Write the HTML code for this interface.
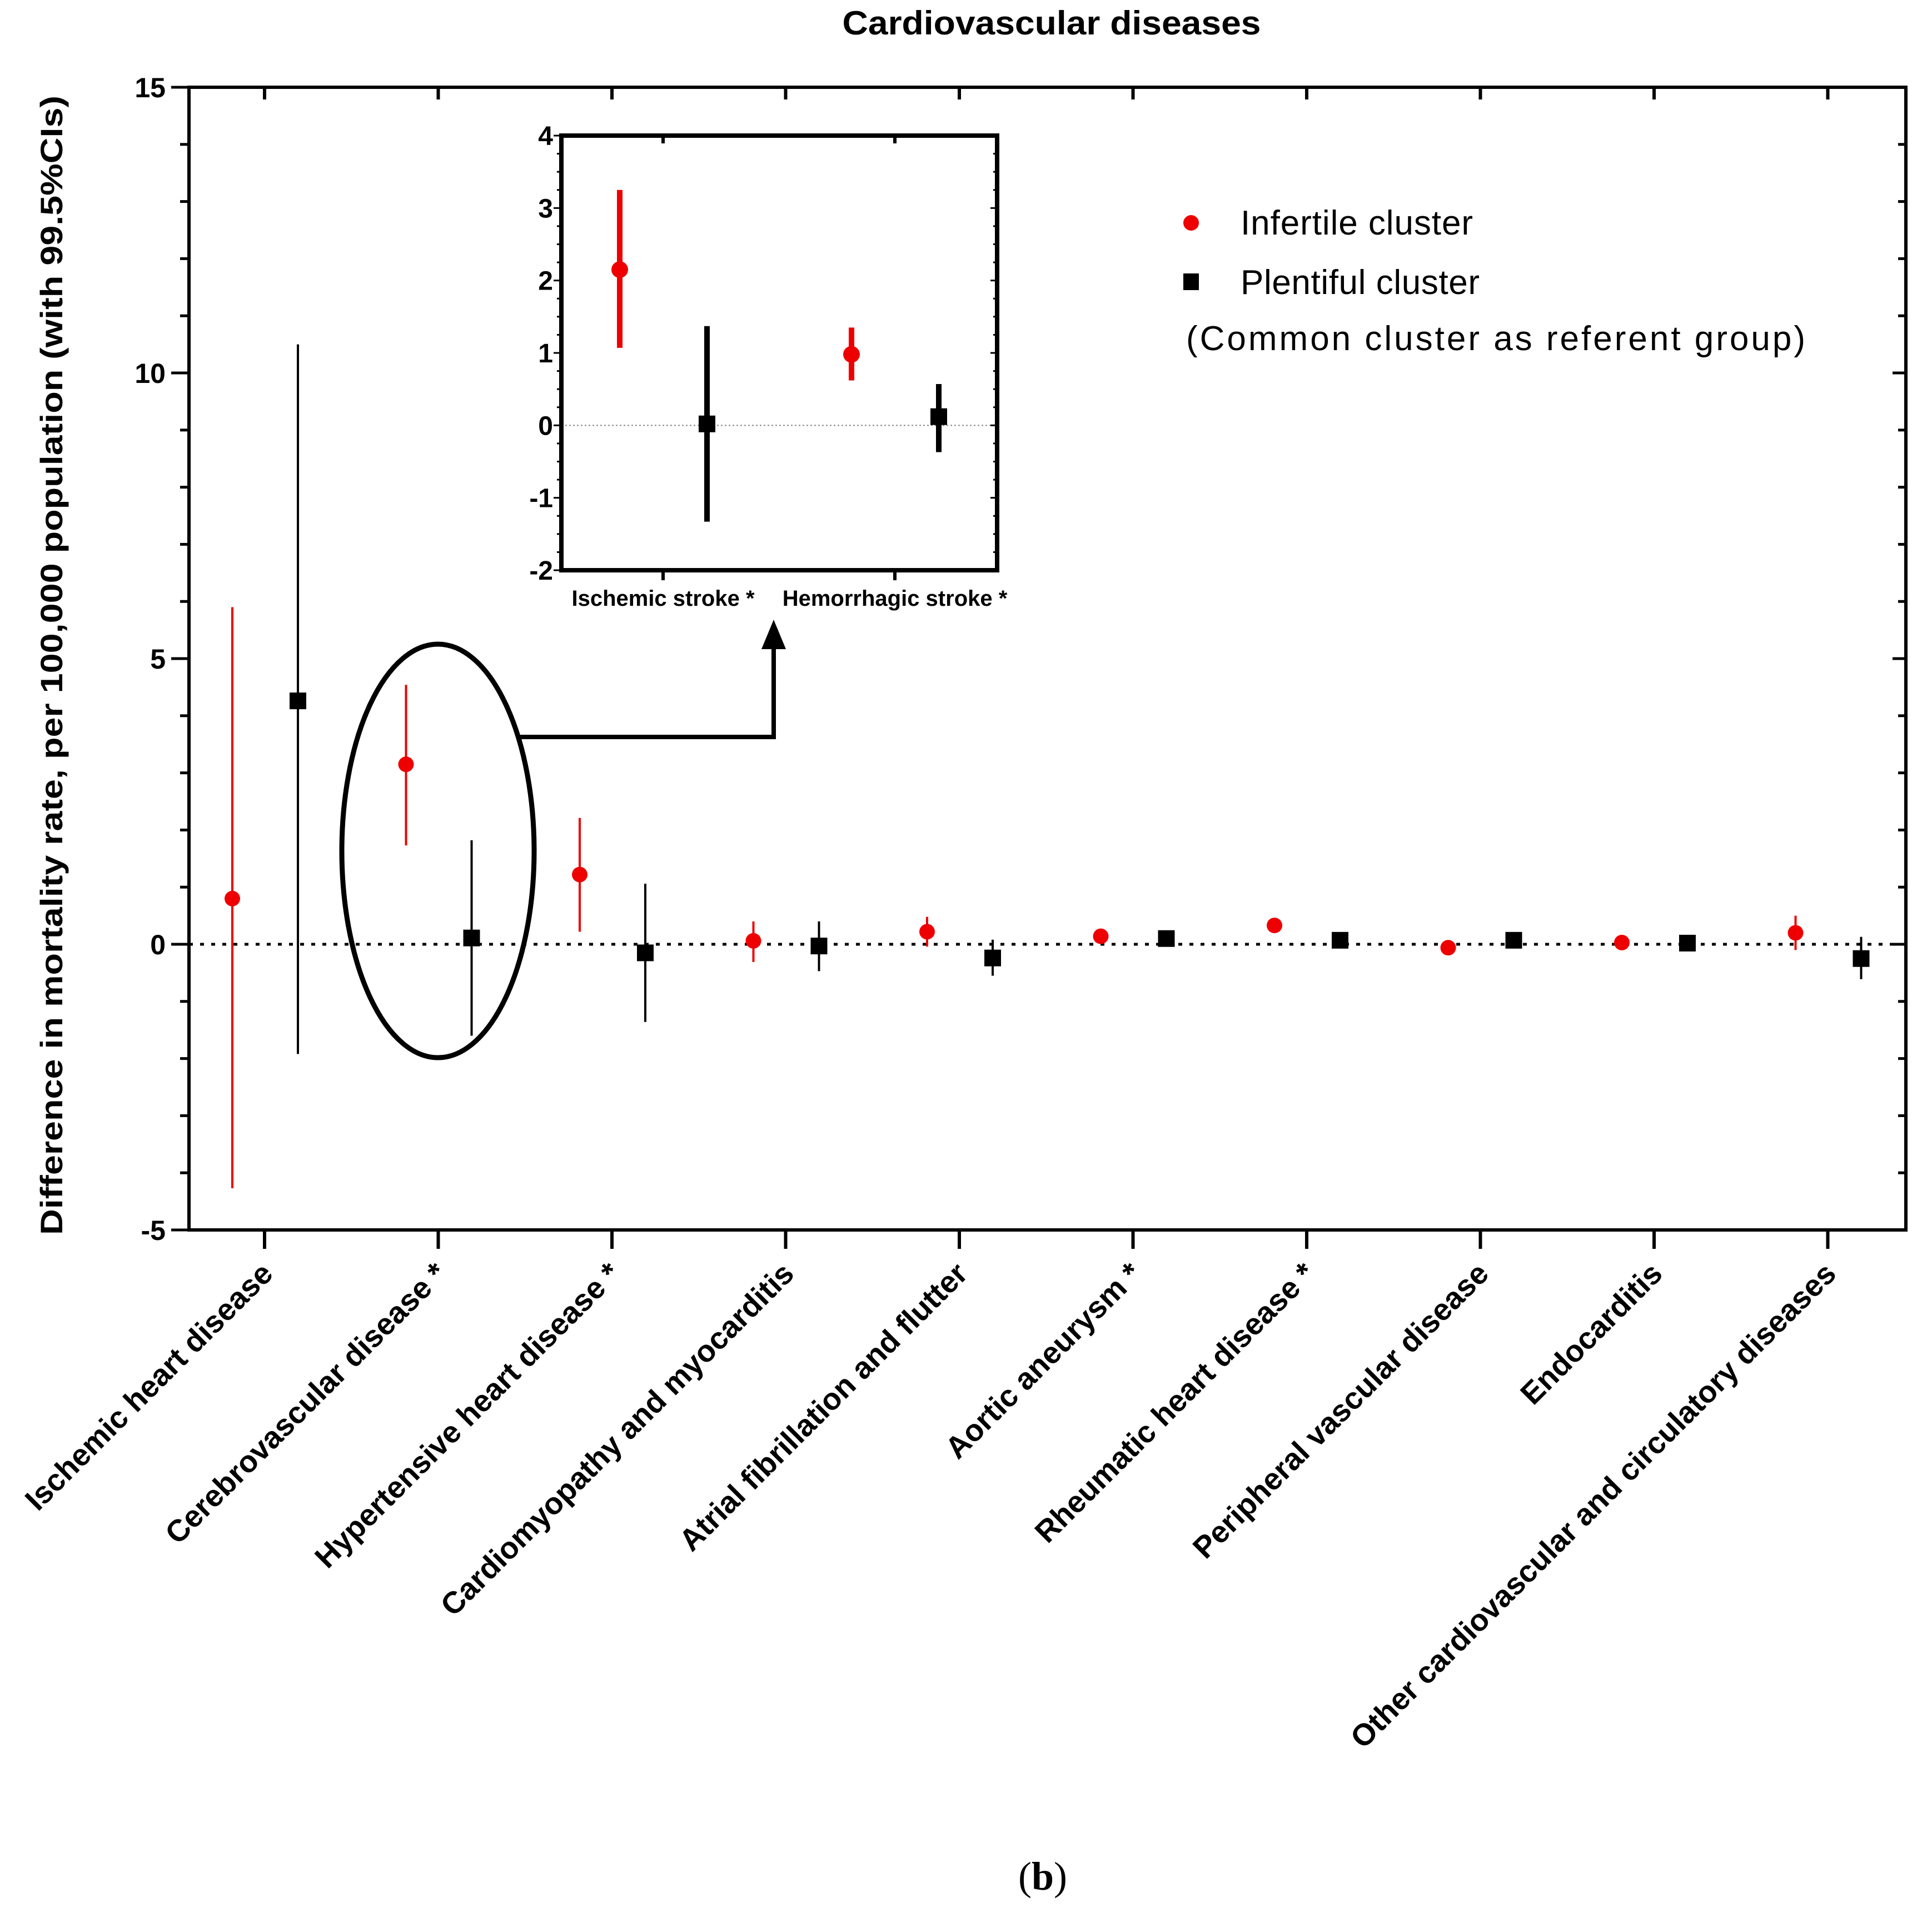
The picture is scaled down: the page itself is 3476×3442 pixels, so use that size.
<!DOCTYPE html>
<html><head><meta charset="utf-8"><style>
html,body{margin:0;padding:0;background:#fff}
svg{display:block}
</style></head><body>
<svg id="chart" xmlns="http://www.w3.org/2000/svg" width="3476" height="3442" viewBox="0 0 3476 3442" font-family="'Liberation Sans',Arial,sans-serif">
<rect width="3476" height="3442" fill="#fff"/>
<text x="1892" y="62" text-anchor="middle" font-weight="bold" font-size="60" textLength="753" lengthAdjust="spacingAndGlyphs">Cardiovascular diseases</text>
<text transform="translate(112,1197) rotate(-90)" text-anchor="middle" font-weight="bold" font-size="56" textLength="2050" lengthAdjust="spacingAndGlyphs">Difference in mortality rate, per 100,000 population (with 99.5%CIs)</text>
<g id="main"></g>
<g id="inset"></g>
<g>
<circle cx="2143" cy="401" r="14" fill="#e00"/>
<text x="2232" y="422" font-size="62" textLength="418">Infertile cluster</text>
<rect x="2129" y="492" width="28" height="30" fill="#000"/>
<text x="2232" y="529" font-size="62" textLength="430">Plentiful cluster</text>
<text x="2134" y="630" font-size="62" textLength="1114">(Common cluster as referent group)</text>
</g>
<g>
<ellipse cx="788" cy="1531" rx="173" ry="372" fill="none" stroke="#000" stroke-width="9"/>
<polyline points="935,1326 1392,1326 1392,1160" fill="none" stroke="#000" stroke-width="8"/>
<polygon points="1392,1115 1370,1168 1414,1168" fill="#000"/>
</g>
<text x="1876" y="3400" text-anchor="middle" style="font-family:'Liberation Serif',serif" font-size="72">(<tspan font-weight="bold">b</tspan>)</text>
</svg>
<script>
const categories = ["Ischemic heart disease","Cerebrovascular disease *","Hypertensive heart disease *","Cardiomyopathy and myocarditis","Atrial fibrillation and flutter","Aortic aneurysm *","Rheumatic heart disease *","Peripheral vascular disease","Endocarditis","Other cardiovascular and circulatory diseases"];
const infertileMean = [0.80, 3.15, 1.22, 0.06, 0.22, 0.14, 0.33, -0.06, 0.03, 0.20];
const infertileLow  = [-4.27, 1.73, 0.22, -0.31, -0.04, 0.08, 0.27, -0.12, -0.03, -0.10];
const infertileHigh = [5.9, 4.54, 2.21, 0.40, 0.48, 0.20, 0.39, 0.00, 0.09, 0.50];
const plentifulMean = [4.26, 0.11, -0.15, -0.03, -0.24, 0.10, 0.07, 0.07, 0.02, -0.25];
const plentifulLow  = [-1.92, -1.6, -1.36, -0.47, -0.55, 0.04, 0.01, 0.01, -0.04, -0.61];
const plentifulHigh = [10.5, 1.82, 1.06, 0.40, 0.08, 0.16, 0.13, 0.13, 0.08, 0.13];
const yTicks = [15, 10, 5, 0, -5];

const insetCategories = ["Ischemic stroke *","Hemorrhagic stroke *"];
const insetInfertileMean = [2.15, 0.98];
const insetInfertileLow = [1.07, 0.62];
const insetInfertileHigh = [3.25, 1.35];
const insetPlentifulMean = [0.02, 0.12];
const insetPlentifulLow = [-1.33, -0.37];
const insetPlentifulHigh = [1.37, 0.57];
const insetTicks = [4, 3, 2, 1, 0, -1, -2];

const NS = "http://www.w3.org/2000/svg";
function mk(parent, tag, attrs, txt){const e=document.createElementNS(NS,tag);for(const k in attrs)e.setAttribute(k,attrs[k]);if(txt!==undefined)e.textContent=txt;parent.appendChild(e);return e;}

// main plot
const L=340,R=3429,T=157,B=2213,yMin=-5,yMax=15;
const y=v=>B-(v-yMin)/(yMax-yMin)*(B-T);
const xc=i=>476+i*312.5;
const main=document.getElementById('main');
let z=mk(main,'line',{x1:L,x2:R,y1:y(0),y2:y(0),stroke:'#000','stroke-width':5,'stroke-dasharray':'7 13'});


for(let v=yMin;v<=yMax;v++){
  const maj=v%5===0;
  let t=mk(main,'line',{x1:maj?308:324,x2:L,y1:y(v),y2:y(v),stroke:'#000','stroke-width':5});
  
  
  let t2=mk(main,'line',{x1:R,x2:maj?R-24:R-14,y1:y(v),y2:y(v),stroke:'#000','stroke-width':5});
  
  
}
yTicks.forEach(v=>{
  let t=mk(main,'text',{x:298,y:y(v)+18,'text-anchor':'end','font-weight':'bold','font-size':50},String(v));
  
  
});
let ax=mk(main,'rect',{x:L,y:T,width:R-L,height:B-T,fill:'none',stroke:'#000','stroke-width':6});


categories.forEach((c,i)=>{
  const x=xc(i);
  let tb=mk(main,'line',{x1:x,x2:x,y1:B,y2:B+34,stroke:'#000','stroke-width':6});
  
  
  let tt=mk(main,'line',{x1:x,x2:x,y1:T,y2:T+22,stroke:'#000','stroke-width':6});
  
  
  let lab=mk(main,'text',{transform:`translate(${x+18},${B+82}) rotate(-45)`,'text-anchor':'end','font-weight':'bold','font-size':55},c);
  
  
  const rx=x-58;
  let e1=mk(main,'line',{x1:rx,x2:rx,y1:y(infertileLow[i]),y2:y(infertileHigh[i]),stroke:'#e00','stroke-width':4});
  
  
  let p1=mk(main,'circle',{cx:rx,cy:y(infertileMean[i]),r:14,fill:'#e00'});
  
  
  const bx=x+60;
  let e2=mk(main,'line',{x1:bx,x2:bx,y1:y(plentifulLow[i]),y2:y(plentifulHigh[i]),stroke:'#000','stroke-width':4});
  
  
  let p2=mk(main,'rect',{x:bx-15,y:y(plentifulMean[i])-15,width:30,height:30,fill:'#000'});
  
  
});

// inset
const iL=1010,iR=1794,iT=244,iB=1026,iMin=-2,iMax=4;
const iy=v=>iB-(v-iMin)/(iMax-iMin)*(iB-iT);
const ix=i=>1193+i*417;
const ins=document.getElementById('inset');
mk(ins,'rect',{x:iL,y:iT,width:iR-iL,height:iB-iT,fill:'#fff'});
let iz=mk(ins,'line',{x1:iL,x2:iR,y1:iy(0),y2:iy(0),stroke:'#888','stroke-width':2,'stroke-dasharray':'3 4'});


for(let v=iMin;v<=iMax;v+=0.25){
  const maj=Math.abs(v-Math.round(v))<1e-6;
  let t=mk(ins,'line',{x1:maj?iL-14:iL-8,x2:iL,y1:iy(v),y2:iy(v),stroke:'#000','stroke-width':3});
  
  
  let t2=mk(ins,'line',{x1:iR,x2:iR-(maj?12:7),y1:iy(v),y2:iy(v),stroke:'#000','stroke-width':3});
  
  
}
insetTicks.forEach(v=>{
  let t=mk(ins,'text',{x:995,y:iy(v)+17,'text-anchor':'end','font-weight':'bold','font-size':48},String(v));
  
  
});
let ifr=mk(ins,'rect',{x:iL,y:iT,width:iR-iL,height:iB-iT,fill:'none',stroke:'#000','stroke-width':8});


insetCategories.forEach((c,i)=>{
  const x=ix(i);
  let tb=mk(ins,'line',{x1:x,x2:x,y1:iB,y2:iB+18,stroke:'#000','stroke-width':6});
  
  
  let tt=mk(ins,'line',{x1:x,x2:x,y1:iT,y2:iT+14,stroke:'#000','stroke-width':6});
  
  
  let lab=mk(ins,'text',{x:x,y:1090,'text-anchor':'middle','font-weight':'bold','font-size':40},c);
  
  
  const rx=x-78;
  let e1=mk(ins,'line',{x1:rx,x2:rx,y1:iy(insetInfertileLow[i]),y2:iy(insetInfertileHigh[i]),stroke:'#e00','stroke-width':10});
  
  
  let p1=mk(ins,'circle',{cx:rx,cy:iy(insetInfertileMean[i]),r:15,fill:'#e00'});
  
  
  const bx=x+79;
  let e2=mk(ins,'line',{x1:bx,x2:bx,y1:iy(insetPlentifulLow[i]),y2:iy(insetPlentifulHigh[i]),stroke:'#000','stroke-width':10});
  
  
  let p2=mk(ins,'rect',{x:bx-15,y:iy(insetPlentifulMean[i])-15,width:30,height:30,fill:'#000'});
  
  
});
</script>
</body></html>
